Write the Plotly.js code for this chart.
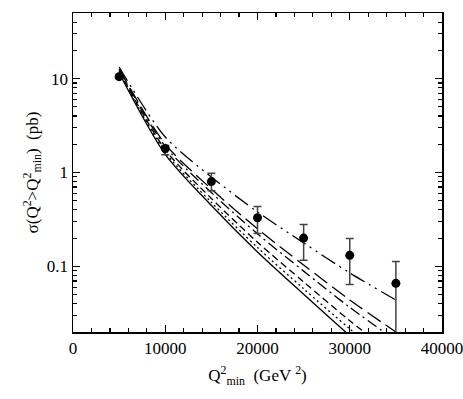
<!DOCTYPE html>
<html>
<head>
<meta charset="utf-8">
<script src="https://cdn.plot.ly/plotly-3.0.1.min.js"></script>
<style>
  html, body { margin: 0; padding: 0; background: #fff; }
  #chart { width: 463px; height: 399px; }
</style>
</head>
<body>
<div id="chart"></div>
<script>
// Q2_min values (GeV^2)
const q2min = [5000, 10000, 15000, 20000, 25000, 30000, 35000];

// measured cross sections sigma(Q2 > Q2min) in pb, with errors
const dataSigma = [10.5, 1.8, 0.80, 0.33, 0.20, 0.131, 0.066];
const errPlus  = [0.5, 0.14, 0.18, 0.105, 0.08, 0.067, 0.047];
const errMinus = [0.5, 0.25, 0.16, 0.106, 0.084, 0.067, 0.056];

// model curves (top to bottom)
const curveDashDotDot = [13.3, 2.39, 0.896, 0.380, 0.178, 0.0852, 0.0439];
const curveLongDash   = [12.7, 2.01, 0.668, 0.251, 0.1035, 0.0439, 0.0200];
const curveDashDot    = [12.4, 1.90, 0.611, 0.222, 0.0890, 0.0366, 0.0162];
const curveDash       = [12.06, 1.75, 0.529, 0.181, 0.0683, 0.0264, 0.0110];
const curveDotted     = [11.77, 1.65, 0.481, 0.1587, 0.0578, 0.0216, 0.0087];
const curveSolid      = [11.48, 1.56, 0.445, 0.1424, 0.0505, 0.0183, 0.0072];

const serif = 'Liberation Serif, Times New Roman, serif';

function curve(y, dash) {
    return {
        x: q2min, y: y, type: 'scatter', mode: 'lines',
        line: { color: '#000', width: 1.3, dash: dash, shape: 'spline', smoothing: 0.8 },
        hoverinfo: 'skip'
    };
}

const traces = [
    curve(curveSolid, 'solid'),
    curve(curveDotted, '2px,3px'),
    curve(curveDash, '7px,4px'),
    curve(curveDashDot, '11px,4px,2px,4px'),
    curve(curveLongDash, '16px,6px'),
    curve(curveDashDotDot, '16px,5px,2px,5px,2px,5px'),
    {
        x: q2min, y: dataSigma, type: 'scatter', mode: 'markers',
        marker: { color: '#000', size: 9 },
        error_y: {
            type: 'data', symmetric: false,
            array: errPlus, arrayminus: errMinus,
            color: '#444', thickness: 1.5, width: 4
        }
    }
];

const minorY = [0.02, 0.03, 0.04, 0.05, 0.06, 0.07, 0.08, 0.09,
                0.2, 0.3, 0.4, 0.5, 0.6, 0.7, 0.8, 0.9,
                2, 3, 4, 5, 6, 7, 8, 9, 20, 30, 40, 50];

const layout = {
    width: 463, height: 399,
    paper_bgcolor: '#fff', plot_bgcolor: '#fff',
    showlegend: false,
    font: { family: serif, color: '#000', size: 17 },
    margin: { l: 73, r: 21, t: 13, b: 67 },
    xaxis: {
        range: [0, 40000],
        tickvals: [0, 10000, 20000, 30000, 40000],
        ticktext: ['0', '10000', '20000', '30000', '40000'],
        ticklabeloverflow: 'allow',
        ticks: 'inside', ticklen: 7, tickwidth: 1.2, tickcolor: '#000',
        minor: { tickmode: 'linear', tick0: 0, dtick: 2000, ticks: 'inside', ticklen: 4, tickcolor: '#000', tickwidth: 1.2 },
        showline: true, linecolor: '#000', linewidth: 1.5, mirror: 'allticks',
        showgrid: false, zeroline: false,
        tickfont: { family: serif, size: 17 },
        title: { text: 'Q<sup>2</sup><sub>min</sub>  (GeV <sup>2</sup>)', font: { family: serif, size: 17 }, standoff: 12 }
    },
    yaxis: {
        type: 'log',
        range: [Math.log10(0.02), Math.log10(50)],
        tickvals: [0.1, 1, 10],
        ticktext: ['0.1', '1', '10'],
        ticks: 'inside', ticklen: 7, tickwidth: 1.2, tickcolor: '#000',
        minor: { tickmode: 'array', tickvals: minorY, ticks: 'inside', ticklen: 4, tickcolor: '#000', tickwidth: 1.2 },
        showline: true, linecolor: '#000', linewidth: 1.5, mirror: 'allticks',
        showgrid: false, zeroline: false,
        tickfont: { family: serif, size: 17 },
        title: { text: 'σ(Q<sup>2</sup>>Q<sup>2</sup><sub>min</sub>)  (pb)', font: { family: serif, size: 17 }, standoff: 4 }
    }
};

Plotly.newPlot('chart', traces, layout, { displayModeBar: false, staticPlot: true });
</script>
</body>
</html>
